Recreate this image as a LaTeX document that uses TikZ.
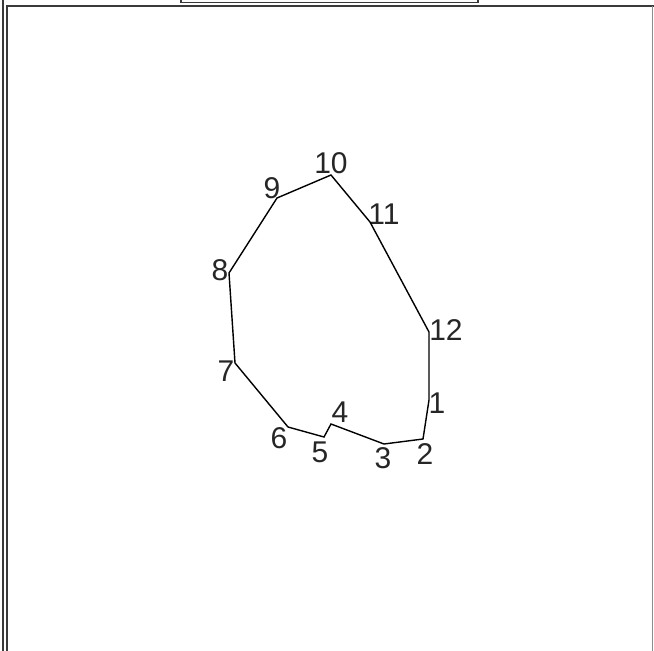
\documentclass[tikz,border=0pt]{standalone}
\usepackage{fontspec}
\setmainfont{Liberation Sans}
\usepackage{tikz}
\definecolor{frame}{HTML}{3A3A3A}
\definecolor{soft}{HTML}{8C8C8C}
\tikzset{
  edge/.style={line width=1.4pt, black, line join=miter},
  vlabel/.style={font=\fontsize{30}{30}\selectfont, inner sep=0pt, text=black!85},
  border/.style={line width=1.2pt, frame},
}

\begin{document}
\begin{tikzpicture}[x=1pt, y=-1pt]
    \useasboundingbox (0,0) rectangle (654,651);
    % sheet frame
    \draw[border] (3,0) -- (3,651);
    \draw[border] (7,651) -- (7,6) -- (654,6);
    \draw[soft, line width=0.6pt] (652,6) -- (652,651);
    \draw[border] (181,0) -- (181,2.5) -- (478,2.5) -- (478,0);

    % outline vertices: number / point / label centre
    \foreach \n/\x/\y/\lx/\ly in {1/429/400/437/403, 2/423/439/425/454, 3/384/444/383/458,
                                  4/331/424/340/412, 5/324/437/320/452, 6/288/427/279/438,
                                  7/235/363/226/371, 8/229/273/220/270, 9/277/198/272/188,
                                  10/331/175/331/163, 11/370/222/384/214, 12/429/332/446/330}
      { \coordinate (p\n) at (\x,\y);
        \node[vlabel] (l\n) at (\lx,\ly) {\n}; }

    \draw[edge] (p1) -- (p2) -- (p3) -- (p4) -- (p5) -- (p6) -- (p7) -- (p8)
                -- (p9) -- (p10) -- (p11) -- (p12) -- cycle;
  \end{tikzpicture}
\end{document}
